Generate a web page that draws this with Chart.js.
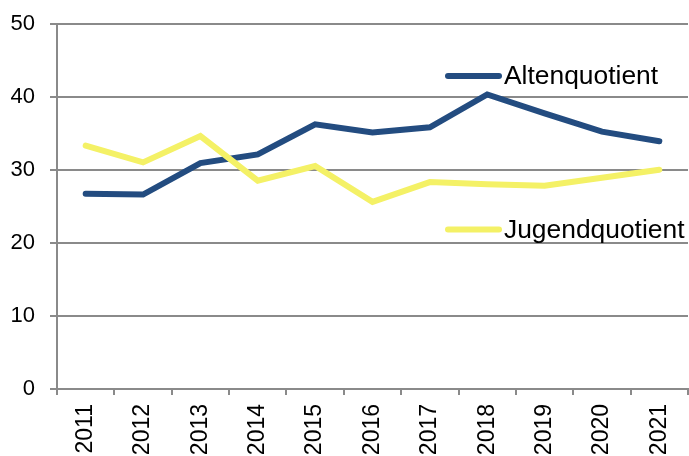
<!DOCTYPE html>
<html>
<head>
<meta charset="utf-8">
<script src="https://cdn.jsdelivr.net/npm/chart.js@4"></script>
<style>
html,body{margin:0;padding:0;background:#fff;}
#wrap{width:689px;height:456px;}
</style>
</head>
<body>
<div id="wrap"><canvas id="c" width="689" height="456"></canvas></div>
<script>
const years = ['2011','2012','2013','2014','2015','2016','2017','2018','2019','2020','2021'];
const altenquotient = [26.7, 26.6, 30.9, 32.1, 36.2, 35.1, 35.8, 40.3, 37.7, 35.2, 33.9];
const jugendquotient = [33.3, 31.0, 34.6, 28.5, 30.5, 25.6, 28.3, 28.0, 27.8, 28.9, 30.0];
const seriesNames = ['Altenquotient', 'Jugendquotient'];
const yTicks = [0, 10, 20, 30, 40, 50];

const FONT = '"Liberation Sans", Arial, sans-serif';
const BLUE = '#234C80';
const YELLOW = '#F4F166';
const GRID = '#8a8a8a';

const inlineLegend = {
  id: 'inlineLegend',
  afterDatasetsDraw(chart, args, opts) {
    const ctx = chart.ctx;
    ctx.save();
    opts.items.forEach((it, i) => {
      const ds = chart.data.datasets[i];
      ctx.strokeStyle = ds.borderColor;
      ctx.lineWidth = 6;
      ctx.lineCap = 'round';
      ctx.beginPath();
      ctx.moveTo(it.x0, it.y);
      ctx.lineTo(it.x1, it.y);
      ctx.stroke();
      ctx.fillStyle = '#000';
      ctx.font = opts.fontSize + 'px ' + FONT;
      ctx.textBaseline = 'middle';
      ctx.textAlign = 'left';
      ctx.fillText(ds.label, it.x1 + 5, it.y + 1);
    });
    ctx.restore();
  }
};

function noPad(scale) {
  scale.paddingTop = 0; scale.paddingBottom = 0;
  scale.paddingLeft = 0; scale.paddingRight = 0;
}

new Chart(document.getElementById('c'), {
  type: 'line',
  data: {
    labels: years,
    datasets: [
      { label: seriesNames[0], data: altenquotient, borderColor: BLUE, backgroundColor: BLUE,
        borderWidth: 6, pointRadius: 0, tension: 0, order: 1, borderCapStyle: 'round' },
      { label: seriesNames[1], data: jugendquotient, borderColor: YELLOW, backgroundColor: YELLOW,
        borderWidth: 6, pointRadius: 0, tension: 0, order: 0, borderCapStyle: 'round' }
    ]
  },
  options: {
    responsive: false,
    animation: false,
    layout: { padding: { top: 23.5, right: 1, left: 0, bottom: 0 } },
    plugins: {
      legend: { display: false },
      tooltip: { enabled: false },
      inlineLegend: {
        fontSize: 26.4,
        items: [
          { x0: 448, x1: 499, y: 76 },
          { x0: 448, x1: 499, y: 229.5 }
        ]
      }
    },
    scales: {
      x: {
        type: 'category',
        offset: true,
        grid: { display: true, drawOnChartArea: false, drawTicks: true, tickLength: 6, offset: true,
                color: GRID, lineWidth: 2 },
        border: { display: true, color: GRID, width: 2 },
        ticks: { color: '#000', font: { family: FONT, size: 23 }, minRotation: 90, maxRotation: 90,
                 padding: 9, autoSkip: false },
        afterFit(scale) { scale.height = 67; noPad(scale); }
      },
      y: {
        min: 0, max: 50,
        afterBuildTicks(scale) { scale.ticks = yTicks.map(v => ({ value: v })); },
        grid: { color: GRID, lineWidth: 2, drawTicks: true, tickLength: 7 },
        border: { display: true, color: GRID, width: 2 },
        ticks: { color: '#000', font: { family: FONT, size: 22 }, padding: 15 },
        afterFit(scale) { scale.width = 57; noPad(scale); }
      }
    }
  },
  plugins: [inlineLegend]
});
</script>
</body>
</html>
